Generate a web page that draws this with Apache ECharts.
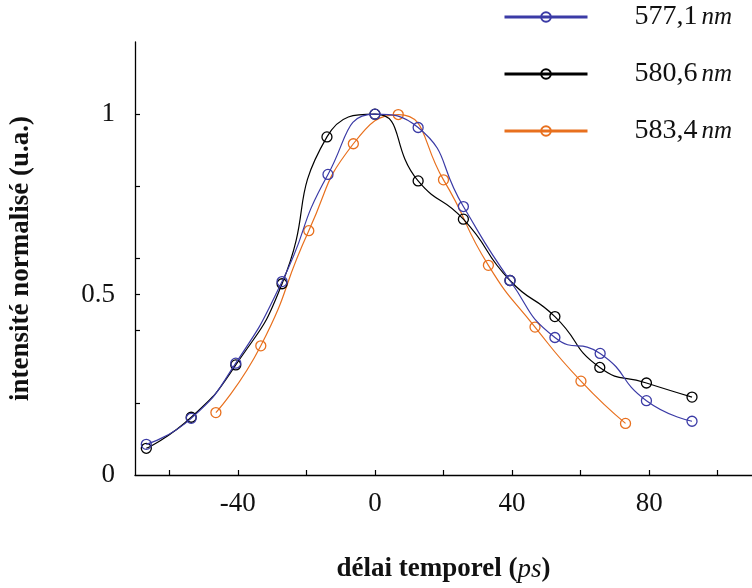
<!DOCTYPE html>
<html>
<head>
<meta charset="utf-8">
<script src="https://cdn.jsdelivr.net/npm/echarts@6/dist/echarts.min.js"></script>
<style>
html,body{margin:0;padding:0;background:#fff;}
#c{width:752px;height:588px;}
</style>
</head>
<body>
<div id="c"></div>
<script>
// ---- data ----
const seriesNames = ['577,1', '580,6', '583,4'];
const blueX  = [-66.7, -53.6, -40.6, -27.1, -13.7, 0, 12.6, 25.8, 39.4, 52.5, 65.7, 79.2, 92.5];
const blueY  = [0.085, 0.157, 0.31, 0.536, 0.833, 1.0, 0.963, 0.744, 0.539, 0.381, 0.337, 0.206, 0.149];
const blackX = [-66.7, -53.6, -40.6, -27.1, -14.0, 0, 12.6, 25.8, 39.4, 52.5, 65.6, 79.2, 92.5];
const blackY = [0.074, 0.16, 0.305, 0.53, 0.937, 1.0, 0.815, 0.709, 0.539, 0.439, 0.298, 0.255, 0.216];
const orangeX = [-46.4, -33.3, -19.3, -6.3, 6.8, 20.0, 33.1, 46.7, 60.1, 73.1];
const orangeY = [0.173, 0.358, 0.677, 0.918, 0.999, 0.818, 0.581, 0.41, 0.26, 0.143];
const xTickValues = [-60, -40, -20, 0, 20, 40, 60, 80, 100];
const xLabelValues = [-40, 0, 40, 80];
const yTickValues = [0.2, 0.4, 0.5, 0.6, 0.8, 1.0];
const yLabelValues = [0, 0.5, 1];

const colors = ['#3b3ba6', '#000000', '#e8701e'];
const FONT = '"Liberation Serif", "DejaVu Serif", serif';

function pairs(xs, ys) { return xs.map((x, i) => [x, ys[i]]); }

function mkSeries(name, xs, ys, color, z) {
  return {
    name: name,
    type: 'line',
    data: pairs(xs, ys),
    smooth: 0.55,
    symbol: 'circle',
    symbolSize: 10,
    z: z,
    lineStyle: { color: color, width: 1.2 },
    itemStyle: { color: 'rgba(255,255,255,0)', borderColor: color, borderWidth: 1.3 },
    emphasis: { disabled: true }
  };
}

const chart = echarts.init(document.getElementById('c'), null, { renderer: 'canvas' });
chart.setOption({
  animation: false,
  backgroundColor: '#fff',
  textStyle: { fontFamily: FONT },
  grid: { left: 127, right: 0, top: 42, bottom: 104, containLabel: false },
  legend: {
    orient: 'vertical',
    left: 503,
    top: 3,
    padding: 0,
    itemWidth: 83,
    itemHeight: 12,
    itemGap: 29,
    data: seriesNames,
    lineStyle: { width: 3 },
    formatter: function (n) { return '{a|' + n + '}{s| }{b|nm}'; },
    textStyle: {
      fontFamily: FONT,
      padding: [0, 0, 0, 42],
      rich: {
        a: { fontFamily: FONT, fontSize: 28, color: '#111', lineHeight: 32 },
        s: { fontFamily: FONT, fontSize: 16, lineHeight: 32 },
        b: { fontFamily: FONT, fontSize: 25, fontStyle: 'italic', color: '#111', lineHeight: 32 }
      }
    }
  },
  xAxis: {
    type: 'value',
    min: -70,
    max: 110,
    splitLine: { show: false },
    axisLine: { onZero: false, lineStyle: { color: '#000', width: 1.3 } },
    axisTick: { inside: true, length: 5, customValues: xTickValues, lineStyle: { color: '#000', width: 1.2 } },
    axisLabel: { customValues: xLabelValues, margin: 15, fontFamily: FONT, fontSize: 27, color: '#111' },
    name: '{n|délai temporel (}{i|ps}{n|)}',
    nameLocation: 'middle',
    nameGap: 81,
    nameTextStyle: {
      rich: {
        n: { fontFamily: FONT, fontSize: 27, color: '#111', fontWeight: 'bold' },
        i: { fontFamily: FONT, fontSize: 27, color: '#111', fontStyle: 'italic' }
      }
    }
  },
  yAxis: {
    type: 'value',
    min: 0,
    max: 1.2,
    splitLine: { show: false },
    axisLine: { show: true, onZero: false, lineStyle: { color: '#000', width: 1.3 } },
    axisTick: { show: true, inside: true, length: 5, customValues: yTickValues, lineStyle: { color: '#000', width: 1.2 } },
    axisLabel: {
      customValues: yLabelValues,
      margin: 20,
      fontFamily: FONT, fontSize: 27, color: '#111',
      formatter: function (v) { return String(v); }
    },
    name: 'intensité normalisé (u.a.)',
    nameLocation: 'middle',
    nameGap: 100,
    nameTextStyle: { fontFamily: FONT, fontSize: 27, color: '#111', fontWeight: 'bold' }
  },
  series: [
    mkSeries(seriesNames[2], orangeX, orangeY, colors[2], 2),
    mkSeries(seriesNames[1], blackX, blackY, colors[1], 3),
    mkSeries(seriesNames[0], blueX, blueY, colors[0], 4)
  ]
});
</script>
</body>
</html>
